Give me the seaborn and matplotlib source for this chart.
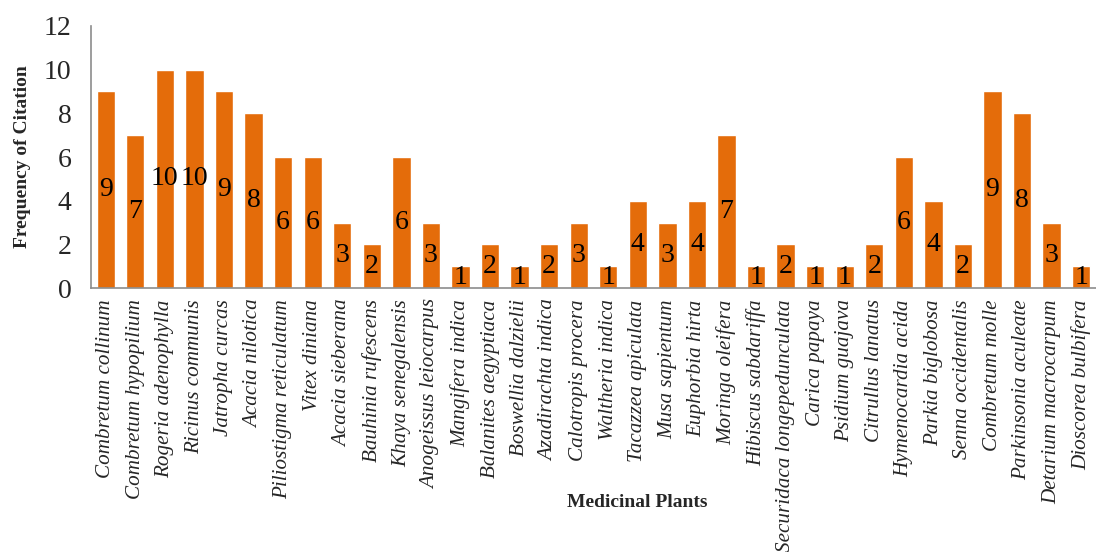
import matplotlib
matplotlib.use("Agg")
import matplotlib.pyplot as plt
import seaborn as sns
import pandas as pd

plants = [
    "Combretum collinum", "Combretum hypopilium", "Rogeria adenophylla",
    "Ricinus communis", "Jatropha curcas", "Acacia nilotica",
    "Piliostigma reticulatum", "Vitex diniana", "Acacia sieberana",
    "Bauhinia rufescens", "Khaya senegalensis", "Anogeissus leiocarpus",
    "Mangifera indica", "Balanites aegyptiaca", "Boswellia dalzielii",
    "Azadirachta indica", "Calotropis procera", "Waltheria indica",
    "Tacazzea apiculata", "Musa sapientum", "Euphorbia hirta",
    "Moringa oleifera", "Hibiscus sabdariffa", "Securidaca longepedunculata",
    "Carica papaya", "Psidium guajava", "Citrullus lanatus",
    "Hymenocardia acida", "Parkia biglobosa", "Senna occidentalis",
    "Combretum molle", "Parkinsonia aculeate", "Detarium macrocarpum",
    "Dioscorea bulbifera",
]
citations = [9, 7, 10, 10, 9, 8, 6, 6, 3, 2, 6, 3, 1, 2, 1, 2, 3, 1, 4, 3, 4,
             7, 1, 2, 1, 1, 2, 6, 4, 2, 9, 8, 3, 1]
y_ticks = [0, 2, 4, 6, 8, 10, 12]

df = pd.DataFrame({"plant": plants, "citations": citations})

sns.set_style("white")
plt.rcParams["font.family"] = ["Liberation Serif", "DejaVu Serif"]

fig = plt.figure(figsize=(10.96, 5.52), dpi=100)
ax = fig.add_axes([0.083, 0.478, 0.917, 0.475])

sns.barplot(data=df, x="plant", y="citations", color="#E46C0A",
            saturation=1, width=0.62, ax=ax)

ax.bar_label(ax.containers[0], labels=[str(v) for v in citations],
             label_type="center", fontsize=20, color="black")

ax.set_xlim(-0.5, len(plants) - 0.5)
ax.set_ylim(0, 12)
ax.set_yticks(y_ticks)
ax.set_yticklabels([str(t) for t in y_ticks], fontsize=20)
ax.tick_params(axis="y", length=0, pad=14)
ax.tick_params(axis="x", length=0, pad=8)
ax.set_xticks(range(len(plants)))
ax.set_xticklabels(plants, rotation=90, fontsize=15.2, fontstyle="italic",
                   va="top", ha="center")

for side in ("top", "right"):
    ax.spines[side].set_visible(False)
for side in ("left", "bottom"):
    ax.spines[side].set_color("#8c8c8c")
    ax.spines[side].set_linewidth(1.2)

ax.set_ylabel("Frequency of Citation", fontsize=14, fontweight="bold",
              labelpad=9)
ax.set_xlabel("")
fig.text(0.581, 0.089, "Medicinal Plants", fontsize=14, fontweight="bold",
         ha="center", va="center")

fig.savefig("out.png", dpi=100)
